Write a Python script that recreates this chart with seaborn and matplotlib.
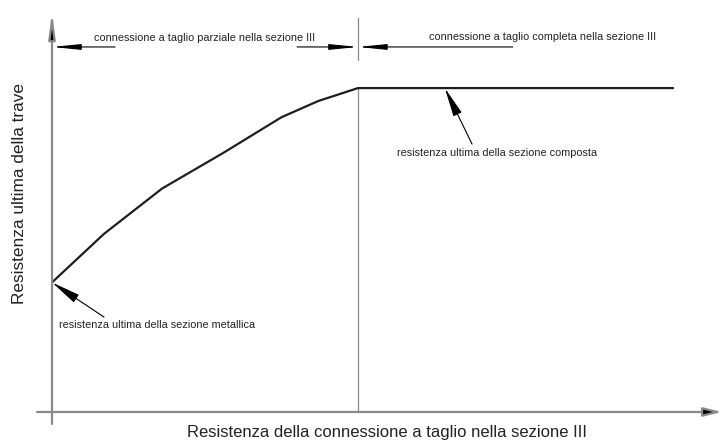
import matplotlib
matplotlib.use("Agg")
import matplotlib.pyplot as plt
import seaborn as sns

# curve values (normalised: 1.0 = full connection / composite resistance)
conn = [0.0, 0.17, 0.36, 0.56, 0.75, 0.87, 1.0, 2.03]
resist = [0.40, 0.55, 0.69, 0.80, 0.91, 0.96, 1.0, 1.0]

FULL_CONN = 1.0
STEEL_RES = 0.40
COMPOSITE_RES = 1.0

label_x = "Resistenza della connessione a taglio nella sezione III"
label_y = "Resistenza ultima della trave"
label_partial = "connessione a taglio parziale nella sezione III"
label_full = "connessione a taglio completa nella sezione III"
note_composite = "resistenza ultima della sezione composta"
note_steel = "resistenza ultima della sezione metallica"

sns.set_theme(style="white")
plt.rcParams["font.family"] = ["Liberation Sans", "DejaVu Sans"]

fig = plt.figure(figsize=(7.22, 4.45), dpi=100)
ax = fig.add_axes([0, 0, 1, 1])
ax.set_xlim(-0.170, 2.190)
ax.set_ylim(-0.102, 1.272)
ax.axis("off")

gray = "#8a8a8a"
ink = "#1e1e1e"
txt = "#222222"
small = 7.8

# axes with arrows
ax.annotate("", xy=(0, 1.235), xytext=(0, -0.037),
            arrowprops=dict(arrowstyle="-|>,head_length=1.5,head_width=0.2",
                            mutation_scale=10, color=gray, lw=1.6,
                            shrinkA=0, shrinkB=0, fc="black", ec=gray))
ax.annotate("", xy=(2.19, 0), xytext=(-0.049, 0),
            arrowprops=dict(arrowstyle="-|>,head_length=1.1,head_width=0.27",
                            mutation_scale=10, color=gray, lw=1.6,
                            shrinkA=0, shrinkB=0, fc="black", ec=gray))

# vertical line at full connection
ax.plot([FULL_CONN, FULL_CONN], [0, COMPOSITE_RES], color=gray, lw=0.9)
ax.plot([FULL_CONN, FULL_CONN], [1.086, 1.216], color=gray, lw=0.9)

# main curve
sns.lineplot(x=conn, y=resist, ax=ax, color=ink, linewidth=1.6, sort=False)

# dimension lines on top
dim_y = 1.127
dim_style = dict(arrowstyle="-|>,head_length=1.7,head_width=0.17",
                 mutation_scale=10, color="black", lw=0.8, shrinkA=0, shrinkB=0)
ax.annotate("", xy=(0, dim_y), xytext=(0.206, dim_y), arrowprops=dim_style)
ax.annotate("", xy=(FULL_CONN, dim_y), xytext=(0.801, dim_y), arrowprops=dim_style)
ax.annotate("", xy=(FULL_CONN, dim_y), xytext=(1.506, dim_y), arrowprops=dim_style)
ax.text(0.50, 1.154, label_partial, ha="center", va="center", fontsize=small, color=txt)
ax.text(1.604, 1.157, label_full, ha="center", va="center", fontsize=small, color=txt)

# notes
note_style = dict(arrowstyle="-|>,head_length=1.8,head_width=0.28",
                  mutation_scale=10, color="black", lw=0.8, shrinkA=0, shrinkB=0)
ax.annotate("", xy=(1.284, COMPOSITE_RES), xytext=(1.373, 0.827), arrowprops=note_style)
ax.text(1.454, 0.799, note_composite, ha="center", va="center", fontsize=small, color=txt)
ax.annotate("", xy=(0, STEEL_RES), xytext=(0.170, 0.293), arrowprops=note_style)
ax.text(0.343, 0.269, note_steel, ha="center", va="center", fontsize=small, color=txt)

# axis titles
ax.text(0.441, -0.062, label_x, ha="left", va="center", fontsize=12, color=txt)
ax.text(-0.105, 0.676, label_y, ha="center", va="center", rotation=90,
        fontsize=12.4, color=txt)

fig.savefig("out.png", dpi=100)
